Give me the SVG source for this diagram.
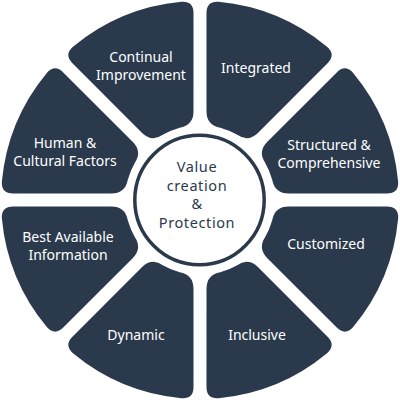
<svg xmlns="http://www.w3.org/2000/svg" xmlns:xlink="http://www.w3.org/1999/xlink" width="400" height="400" viewBox="0 0 400 400">
<style>
.seg{fill:#2a3a4c}
.lbl{font-family:"Noto Sans","Open Sans",sans-serif;font-size:14px;fill:#ffffff;text-anchor:middle}
.ctr{font-family:"Noto Sans","Open Sans",sans-serif;font-size:14.5px;letter-spacing:0.6px;fill:#2a3a4c;text-anchor:middle}
</style>
<defs>
<path id="seg" class="seg" d="M -58.753,-190.129 A 199 199 0 0 1 58.753,-190.129 Q 70.108,-186.241 65.516,-175.154 L 27.945,-84.452 Q 22.588,-71.518 8.924,-74.467 A 75 75 0 0 0 -8.924,-74.467 Q -22.588,-71.518 -27.945,-84.452 L -65.516,-175.154 Q -70.108,-186.241 -58.753,-190.129 Z"/>
</defs>
<g id="connectors"></g>
<g id="integrated"><use xlink:href="#seg" transform="translate(200,200) rotate(22.5)"/><text class="lbl" x="256" y="73">Integrated</text></g>
<g id="structured"><use xlink:href="#seg" transform="translate(200,200) rotate(67.5)"/><text class="lbl" x="329" y="149.5">Structured &amp;</text><text class="lbl" x="329" y="167.5">Comprehensive</text></g>
<g id="customized"><use xlink:href="#seg" transform="translate(200,200) rotate(112.5)"/><text class="lbl" x="326" y="249">Customized</text></g>
<g id="inclusive"><use xlink:href="#seg" transform="translate(200,200) rotate(157.5)"/><text class="lbl" x="257" y="340">Inclusive</text></g>
<g id="dynamic"><use xlink:href="#seg" transform="translate(200,200) rotate(202.5)"/><text class="lbl" x="136" y="340">Dynamic</text></g>
<g id="best-available"><use xlink:href="#seg" transform="translate(200,200) rotate(247.5)"/><text class="lbl" x="68" y="242">Best Available</text><text class="lbl" x="68" y="260">Information</text></g>
<g id="human-cultural"><use xlink:href="#seg" transform="translate(200,200) rotate(292.5)"/><text class="lbl" x="65" y="148">Human &amp;</text><text class="lbl" x="65" y="166">Cultural Factors</text></g>
<g id="continual"><use xlink:href="#seg" transform="translate(200,200) rotate(337.5)"/><text class="lbl" x="141" y="62">Continual</text><text class="lbl" x="141" y="80">Improvement</text></g>
<g id="center">
<circle cx="199.5" cy="200" r="64.7" fill="#ffffff" stroke="#2a3a4c" stroke-width="3.5"/>
<text class="ctr" x="197" y="171.5">Value</text>
<text class="ctr" x="197" y="190.5">creation</text>
<text class="ctr" x="197" y="209">&amp;</text>
<text class="ctr" x="197" y="227.5">Protection</text>
</g>
</svg>
